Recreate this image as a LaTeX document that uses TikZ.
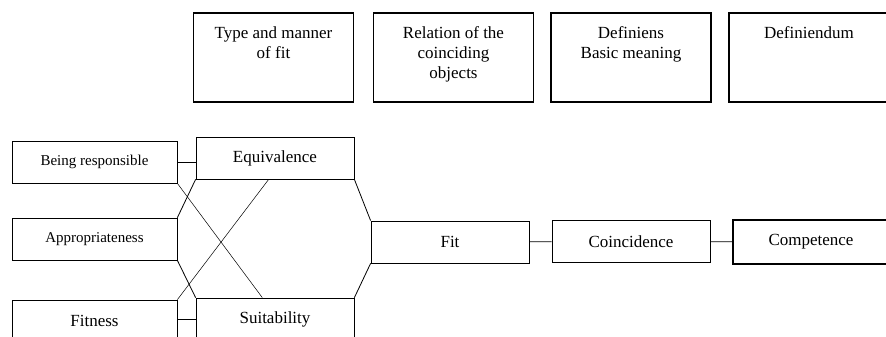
\documentclass[tikz,border=0pt]{standalone}
\usepackage{fontspec}
\setmainfont{Liberation Serif}
\usetikzlibrary{calc}
\newcommand{\headtext}[1]{\parbox[t][89pt][t]{150pt}{\centering\vspace*{14pt}#1}}

\begin{document}
\begin{tikzpicture}[x=1pt,y=-1pt,
  box/.style={draw, line width=0.8pt, inner sep=0pt, minimum height=42pt, font=\fontsize{17}{20}\selectfont},
  wide/.style={box, minimum width=165pt},
  narrow/.style={box, minimum width=158pt},
  small/.style={font=\fontsize{15}{18}\selectfont},
  header/.style={draw, line width=1.6pt, inner sep=0pt, minimum width=160pt, minimum height=89pt, font=\fontsize{17}{20}\selectfont},
  link/.style={line width=0.8pt},
  cross/.style={line width=0.5pt}]
  \useasboundingbox (0,0) rectangle (886,337);
  \clip (0,0) rectangle (886,337);

  \node[header] (type) at (273.5,57.5) {\headtext{Type and manner\\of fit}};
  \node[header] (relation) at (453.5,57.5) {\headtext{Relation of the\\coinciding\\objects}};
  \node[header] (definiens) at (631,57.5) {\headtext{Definiens\\Basic meaning}};
  \node[header] (definiendum) at (809,57.5) {\headtext{Definiendum}};

  \node[wide, small] (resp) at (94.5,162) {Being responsible};
  \node[narrow] (equiv) at (275,158) {Equivalence};
  \node[wide, small] (approp) at (94.5,239) {Appropriateness};
  \node[wide] (fitness) at (94.5,321) {Fitness};
  \node[narrow] (suit) at (275,319) {Suitability};
  \node[narrow] (fit) at (450,242) {Fit};
  \node[narrow] (coinc) at (631,241.5) {Coincidence};
  \node[box, line width=2.4pt, minimum width=156pt, minimum height=44pt] (comp) at (811,242) {Competence};

  \draw[link] (resp.east) -- (resp.east -| equiv.west);
  \draw[link] (suit.west -| fitness.east) -- (suit.west);
  \draw[link] (equiv.south west) -- (approp.north east);
  \draw[link] (approp.south east) -- (suit.north west);
  \draw[link] (equiv.south east) -- (fit.north west);
  \draw[link] (fit.south west) -- (suit.north east);
  \draw[cross] (resp.south east) -- ($(suit.north west)!0.42!(suit.north east)$);
  \draw[cross] (fitness.north east) -- ($(equiv.south west)!0.46!(equiv.south east)$);
  \draw[link] (fit) -- (coinc);
  \draw[link] (coinc) -- (comp);
\end{tikzpicture}
\end{document}
